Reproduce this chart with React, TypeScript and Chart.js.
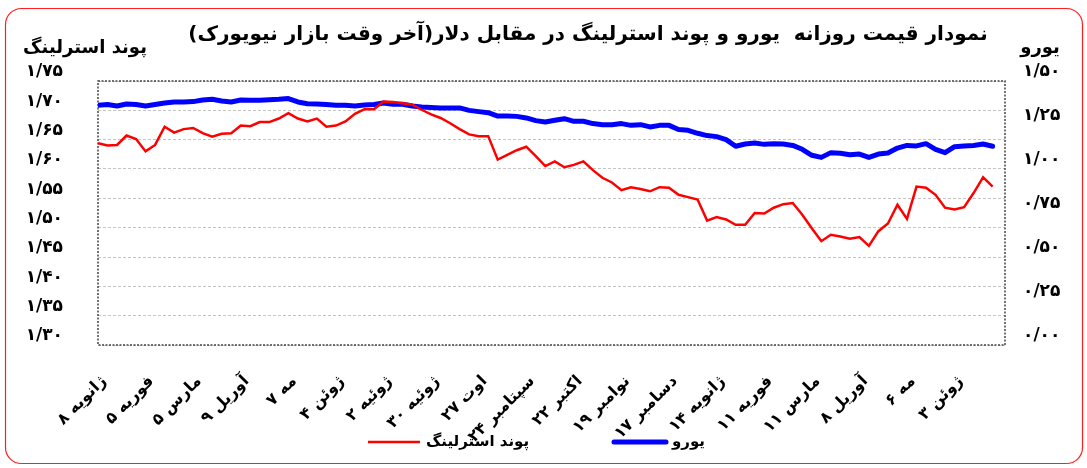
import React, { useEffect, useRef } from 'react';
import { Chart, registerables } from 'chart.js';

Chart.register(...registerables);

const FONT = "'DejaVu Sans', sans-serif";

const chartTitle = 'نمودار قیمت روزانه  یورو و پوند استرلینگ در مقابل دلار(آخر وقت بازار نیویورک)';
const leftAxisTitle = 'پوند استرلینگ';
const rightAxisTitle = 'یورو';
const poundLabel = 'پوند استرلینگ';
const euroLabel = 'یورو';

const dateLabels = [
  'ژانویه ۸', 'فوریه ۵', 'مارس ۵', 'آوریل ۹', 'مه ۷', 'ژوئن ۴', 'ژوئیه ۲', 'ژوئیه ۳۰',
  'اوت ۲۷', 'سپتامبر ۲۴', 'اکتبر ۲۲', 'نوامبر ۱۹', 'دسامبر ۱۷', 'ژانویه ۱۴', 'فوریه ۱۱',
  'مارس ۱۱', 'آوریل ۸', 'مه ۶', 'ژوئن ۳',
];
// one sample every 4 trading days; a date label every 5 samples (20 trading days)
const samplesPerLabel = 5;
const xAxisEnd = 95.3;

const poundValues = [
  1.644, 1.640, 1.641, 1.657, 1.651, 1.630, 1.641, 1.672, 1.662, 1.668,
  1.670, 1.661, 1.655, 1.660, 1.661, 1.674, 1.673, 1.680, 1.680, 1.686,
  1.695, 1.686, 1.681, 1.686, 1.672, 1.674, 1.681, 1.694, 1.702, 1.702,
  1.715, 1.714, 1.712, 1.710, 1.701, 1.693, 1.687, 1.678, 1.668, 1.659,
  1.656, 1.656, 1.616, 1.624, 1.632, 1.638, 1.622, 1.605, 1.613, 1.603,
  1.607, 1.613, 1.598, 1.585, 1.577, 1.564, 1.569, 1.566, 1.562, 1.569,
  1.568, 1.556, 1.552, 1.548, 1.512, 1.518, 1.514, 1.505, 1.505, 1.525,
  1.524, 1.534, 1.540, 1.542, 1.522, 1.499, 1.477, 1.488, 1.485, 1.481,
  1.484, 1.469, 1.494, 1.507, 1.539, 1.515, 1.570, 1.568, 1.556, 1.534,
  1.531, 1.535, 1.559, 1.586, 1.570,
];

const euroValues = [
  1.362, 1.366, 1.358, 1.369, 1.366, 1.358, 1.366, 1.375, 1.381, 1.381,
  1.383, 1.392, 1.396, 1.386, 1.381, 1.392, 1.390, 1.390, 1.394, 1.396,
  1.400, 1.381, 1.371, 1.369, 1.366, 1.362, 1.362, 1.358, 1.364, 1.366,
  1.375, 1.368, 1.368, 1.358, 1.352, 1.349, 1.347, 1.347, 1.347, 1.333,
  1.326, 1.320, 1.301, 1.301, 1.299, 1.290, 1.275, 1.267, 1.277, 1.286,
  1.271, 1.271, 1.258, 1.252, 1.252, 1.258, 1.248, 1.252, 1.239, 1.248,
  1.248, 1.224, 1.220, 1.203, 1.190, 1.184, 1.167, 1.129, 1.142, 1.148,
  1.140, 1.144, 1.142, 1.134, 1.112, 1.078, 1.066, 1.093, 1.089, 1.081,
  1.085, 1.066, 1.085, 1.091, 1.119, 1.134, 1.131, 1.144, 1.112, 1.093,
  1.127, 1.131, 1.134, 1.142, 1.129,
];

const poundTickValues = [1.30, 1.35, 1.40, 1.45, 1.50, 1.55, 1.60, 1.65, 1.70, 1.75];
const poundTickLabels = ['۱/۳۰', '۱/۳۵', '۱/۴۰', '۱/۴۵', '۱/۵۰', '۱/۵۵', '۱/۶۰', '۱/۶۵', '۱/۷۰', '۱/۷۵'];
const euroTickValues = [0, 0.25, 0.5, 0.75, 1.0, 1.25, 1.5];
const euroTickLabels = ['۰/۰۰', '۰/۲۵', '۰/۵۰', '۰/۷۵', '۱/۰۰', '۱/۲۵', '۱/۵۰'];

const legendPlacement = [
  { x1: 368, x2: 420, textX: 426 },
  { x1: 614, x2: 666, textX: 672 },
];

const decorPlugin = {
  id: 'decor',
  beforeDraw(chart: any) {
    const { ctx } = chart;
    ctx.save();
    ctx.fillStyle = '#ffffff';
    ctx.fillRect(0, 0, chart.width, chart.height);
    ctx.strokeStyle = '#ff1f1f';
    ctx.lineWidth = 1.2;
    ctx.beginPath();
    ctx.roundRect(5.5, 8.5, 1077, 455, 16);
    ctx.stroke();
    ctx.restore();
  },
  beforeDatasetsDraw(chart: any) {
    const { ctx, chartArea: a } = chart;
    ctx.save();
    ctx.strokeStyle = '#444444';
    ctx.lineWidth = 1.5;
    ctx.setLineDash([2, 1.5]);
    ctx.strokeRect(a.left, a.top, a.right - a.left, a.bottom - a.top);
    ctx.restore();
  },
  afterDraw(chart: any) {
    const { ctx } = chart;
    ctx.save();
    ctx.fillStyle = '#000000';
    ctx.textBaseline = 'middle';
    ctx.direction = 'rtl';
    ctx.textAlign = 'center';
    ctx.font = `bold 20px ${FONT}`;
    ctx.fillText(chartTitle, 588, 35);
    ctx.font = `bold 18px ${FONT}`;
    ctx.fillText(leftAxisTitle, 85, 48);
    ctx.fillText(rightAxisTitle, 1040, 48);

    ctx.font = `bold 15px ${FONT}`;
    ctx.textAlign = 'left';
    chart.data.datasets.forEach((ds: any, k: number) => {
      const p = legendPlacement[k];
      if (!p) return;
      const y = 442;
      ctx.save();
      ctx.strokeStyle = ds.borderColor;
      ctx.lineWidth = ds.borderWidth;
      ctx.lineCap = ds.borderCapStyle || 'butt';
      ctx.beginPath();
      ctx.moveTo(p.x1, y);
      ctx.lineTo(p.x2, y);
      ctx.stroke();
      ctx.restore();
      ctx.fillText(ds.label, p.textX, y);
    });
    ctx.restore();
  },
};

export default function App() {
  const canvasRef = useRef<HTMLCanvasElement | null>(null);

  useEffect(() => {
    const canvas = canvasRef.current;
    if (!canvas) return;
    const chart = new Chart(canvas, {
      type: 'line',
      data: {
        datasets: [
          {
            label: poundLabel,
            data: poundValues.map((v, i) => ({ x: i, y: v })),
            borderColor: '#ff0000',
            borderWidth: 2.5,
            pointRadius: 0,
            tension: 0,
            yAxisID: 'y',
          },
          {
            label: euroLabel,
            data: euroValues.map((v, i) => ({ x: i, y: v })),
            borderColor: '#0000ff',
            borderWidth: 5,
            borderCapStyle: 'round',
            borderJoinStyle: 'round',
            pointRadius: 0,
            tension: 0,
            yAxisID: 'y1',
          },
        ],
      },
      options: {
        responsive: false,
        animation: false,
        events: [],
        layout: { padding: { top: 81, left: 0, right: 0, bottom: 0 } },
        plugins: {
          legend: { display: false },
          title: { display: false },
          tooltip: { enabled: false },
        },
        scales: {
          x: {
            type: 'linear',
            min: 0,
            max: xAxisEnd,
            grid: { display: false },
            border: { display: false },
            afterBuildTicks: (scale: any) => {
              scale.ticks = dateLabels.map((_, k) => ({ value: k * samplesPerLabel }));
            },
            afterFit: (scale: any) => {
              scale.height = 123;
              scale.paddingLeft = 0;
              scale.paddingRight = 0;
            },
            ticks: {
              autoSkip: false,
              minRotation: 45,
              maxRotation: 45,
              padding: 19,
              labelOffset: 6,
              color: '#000000',
              font: { family: FONT, size: 16, weight: 'bold' },
              callback: (value: any) => dateLabels[Math.round(Number(value) / samplesPerLabel)] ?? '',
            },
          },
          y: {
            type: 'linear',
            position: 'left',
            min: 1.30,
            max: 1.75,
            afterBuildTicks: (scale: any) => {
              scale.ticks = poundTickValues.map((v) => ({ value: v }));
            },
            afterFit: (scale: any) => {
              scale.width = 98;
            },
            grid: { color: '#c4c4c4', lineWidth: 1, drawTicks: false },
            border: { display: false, dash: [3, 2] },
            ticks: {
              padding: 35,
              labelOffset: -9,
              color: '#000000',
              font: { family: FONT, size: 17, weight: 'bold' },
              callback: (_v: any, index: number) => poundTickLabels[index],
            },
          },
          y1: {
            type: 'linear',
            position: 'right',
            min: 0,
            max: 1.5,
            afterBuildTicks: (scale: any) => {
              scale.ticks = euroTickValues.map((v) => ({ value: v }));
            },
            afterFit: (scale: any) => {
              scale.width = 82;
            },
            grid: { display: false, drawTicks: false },
            border: { display: false },
            ticks: {
              padding: 18,
              labelOffset: -9,
              color: '#000000',
              font: { family: FONT, size: 17, weight: 'bold' },
              callback: (_v: any, index: number) => euroTickLabels[index],
            },
          },
        },
      },
      plugins: [decorPlugin],
    } as any);
    return () => chart.destroy();
  }, []);

  return (
    <div style={{ position: 'absolute', left: 0, top: 0, width: 1087, height: 468, background: '#fff' }}>
      <canvas ref={canvasRef} width={1087} height={468} style={{ display: 'block' }} />
    </div>
  );
}
